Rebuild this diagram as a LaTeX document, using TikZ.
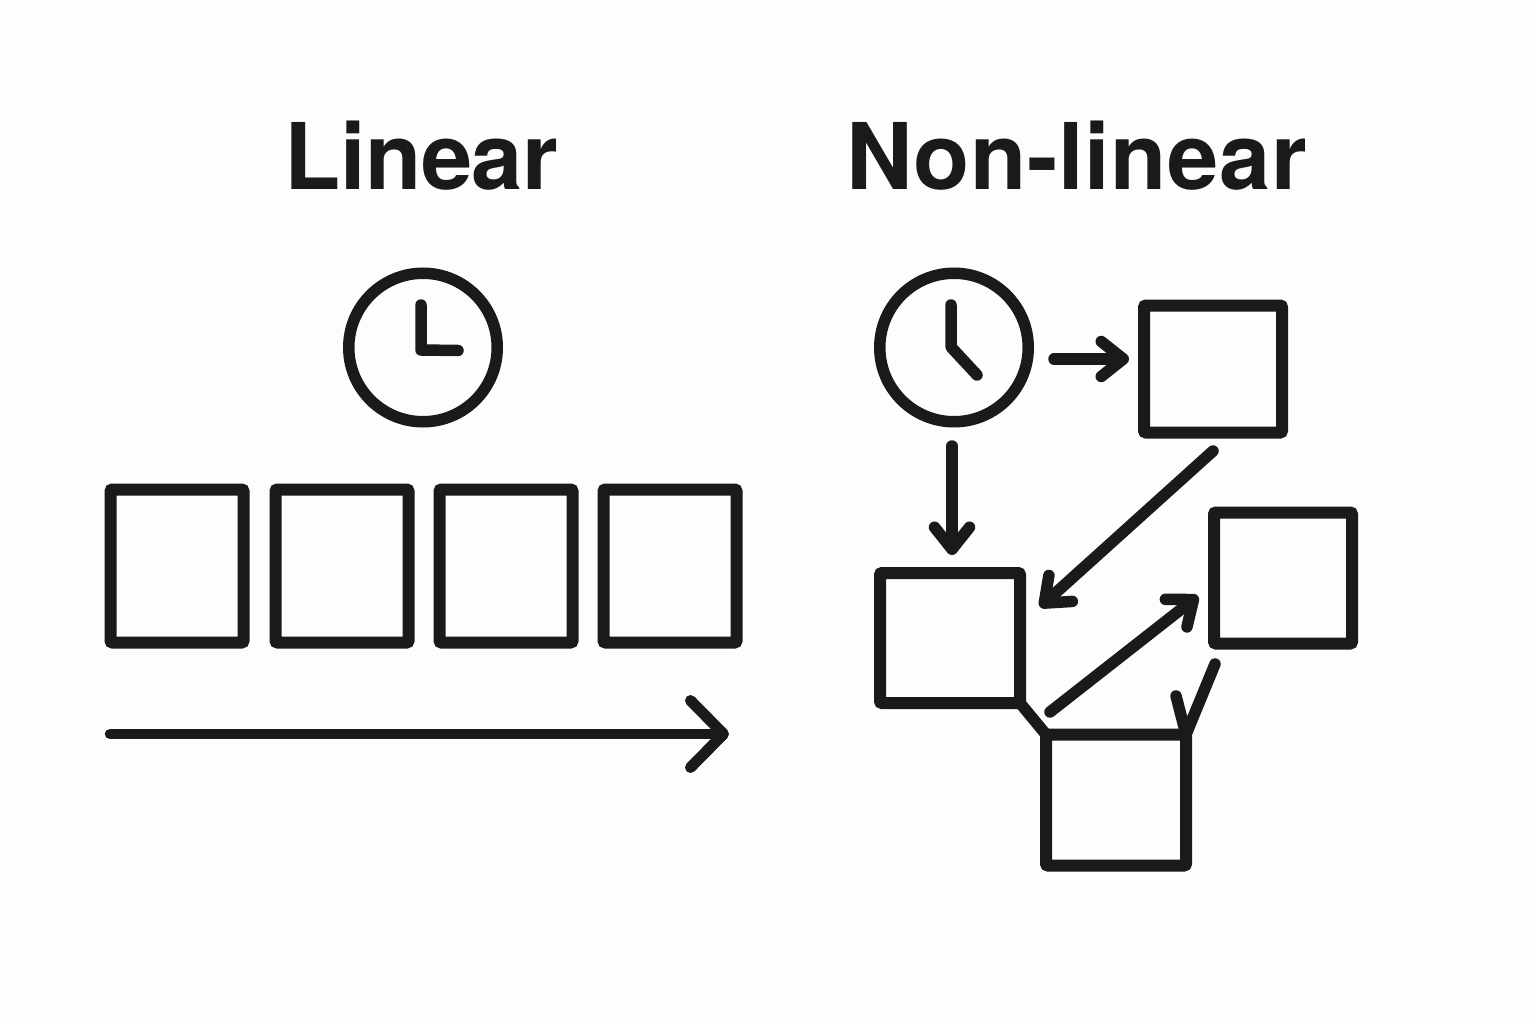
\documentclass[tikz,border=0pt]{standalone}
\usepackage{fontspec}
\setmainfont{TeX Gyre Heros}
\usepackage{tikz}
\usetikzlibrary{arrows.meta}
\definecolor{inkblack}{HTML}{1A1A1A}
\definecolor{paper}{HTML}{FDFDFB}
\pgfdeclarearrow{
  name=Flat Barb,
  parameters={\the\pgfarrowlength,\the\pgfarrowwidth,\the\pgfarrowlinewidth},
  setup code={
    \pgfarrowssettipend{.5\pgfarrowlinewidth}
    \pgfarrowssetlineend{-.5\pgfarrowlinewidth}
    \pgfarrowssetbackend{-\pgfarrowlength}
    \pgfarrowssavethe\pgfarrowlength
    \pgfarrowssavethe\pgfarrowwidth
    \pgfarrowssavethe\pgfarrowlinewidth
  },
  drawing code={
    \pgfsetdash{}{0pt}
    \pgfsetlinewidth{\pgfarrowlinewidth}
    \pgfsetroundcap
    \pgfsetroundjoin
    \pgfpathmoveto{\pgfqpoint{-\pgfarrowlength}{.5\pgfarrowwidth}}
    \pgfpathlineto{\pgfqpoint{0pt}{0pt}}
    \pgfpathlineto{\pgfqpoint{-\pgfarrowlength}{-.5\pgfarrowwidth}}
    \pgfusepathqstroke
  },
  defaults={length=22pt, width=35pt, line width=11.5pt}
}
\tikzset{
  title/.style={font=\fontsize{92}{92}\selectfont\bfseries, text=inkblack, inner sep=0pt, anchor=base},
  cell/.style={draw=inkblack, line width=12pt, rounded corners=2pt, inner sep=0pt, outer sep=0pt},
  dial/.style={circle, draw=inkblack, line width=11.5pt, minimum size=148.5pt, inner sep=0pt},
  hand/.style={draw=inkblack, line width=11.5pt, line cap=round, line join=round},
  link/.style={hand, -{Flat Barb}},
  longlink/.style={hand, line width=10.5pt, -{Flat Barb[length=33pt, width=67pt, line width=11pt]}}
}
\begin{document}
\begin{tikzpicture}[x=1pt, y=-1pt]
\useasboundingbox [fill=paper] (0,0) rectangle (1536,1024);

\node [title] (linear) at (421.5,190) {\addfontfeatures{LetterSpace=-0.6}Linear};
\node [title] (nonlinear) at (1076.5,190) {\addfontfeatures{LetterSpace=0.6}Non-linear};

% left side
\node [dial] (clock-l) at (423,347.5) {};
\foreach \m/\x in {1/177,2/342,3/506,4/670}
  \node [cell, minimum width=133pt, minimum height=153pt] (cell-\m) at (\x,566) {};

\coordinate (hand-l1) at (421,305);
\coordinate (hand-l2) at (421,350);
\coordinate (hand-l3) at (458,350.5);
\draw [hand] (hand-l1) -- (hand-l2) -- (hand-l3);

\coordinate (time-a) at (110,734);
\coordinate (time-b) at (729,734);
\draw [longlink] (time-a) -- (time-b);

% right side
\node [dial] (clock-r) at (954,347.5) {};
\node [cell, minimum width=138pt, minimum height=127pt] (box-a) at (1213,369) {};
\node [cell, minimum width=140pt, minimum height=130pt] (box-b) at (950,638) {};
\node [cell, minimum width=138pt, minimum height=131pt] (box-c) at (1283,578) {};
\node [cell, minimum width=140pt, minimum height=131pt] (box-d) at (1116,800) {};

\coordinate (hand-r1) at (951,305);
\coordinate (hand-r2) at (951,347);
\coordinate (hand-r3) at (977,375);
\draw [hand] (hand-r1) -- (hand-r2) -- (hand-r3);

\coordinate (a1) at (1054,359);
\coordinate (a2) at (1129,359);
\coordinate (b1) at (952,446);
\coordinate (b2) at (952,555);
\coordinate (c1) at (1213,451);
\coordinate (c2) at (1040,607);
\coordinate (d1) at (1050,712);
\coordinate (d2) at (1198,596);
\coordinate (e1) at (1215,664);
\coordinate (e2) at (1176,696);
\draw [link] (a1) -- (a2);
\draw [link] (b1) -- (b2);
\draw [link] (c1) -- (c2);
\draw [link] (d1) -- (d2);
\draw [hand] (e1) -- (box-d.north east) -- (e2);
\draw [hand] (box-b.south east) -- (box-d.north west);

\end{tikzpicture}
\end{document}
